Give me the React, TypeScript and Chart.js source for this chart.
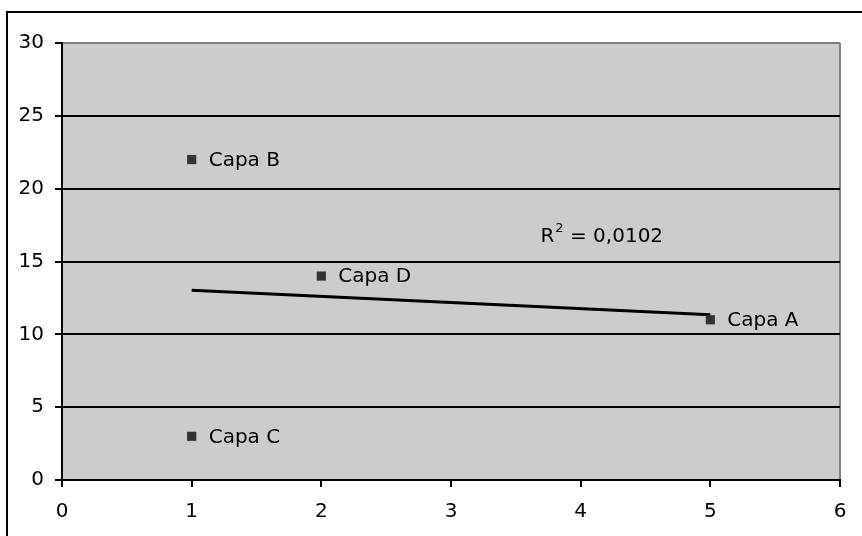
import React, { useEffect, useRef } from "react";
import { Chart, registerables } from "chart.js";

Chart.register(...registerables);

const labels = ["Capa A", "Capa B", "Capa C", "Capa D"];
const xValues = [5, 1, 1, 2];
const yValues = [11, 22, 3, 14];
const xTicks = [0, 1, 2, 3, 4, 5, 6];
const yTicks = [0, 5, 10, 15, 20, 25, 30];
const r2Text = "0,0102";
const r2Pos = { x: 3.69, y: 16.7 };

const FONT = "DejaVu Sans, Verdana, sans-serif";

function regression(xs: number[], ys: number[]) {
  const n = xs.length;
  const mx = xs.reduce((a, b) => a + b, 0) / n;
  const my = ys.reduce((a, b) => a + b, 0) / n;
  let sxy = 0, sxx = 0;
  for (let i = 0; i < n; i++) {
    sxy += (xs[i] - mx) * (ys[i] - my);
    sxx += (xs[i] - mx) ** 2;
  }
  const slope = sxy / sxx;
  return { slope, intercept: my - slope * mx };
}

export default function App() {
  const ref = useRef<HTMLCanvasElement | null>(null);
  useEffect(() => {
    if (!ref.current) return;
    const { slope, intercept } = regression(xValues, yValues);
    const xmin = Math.min(...xValues);
    const xmax = Math.max(...xValues);
    const trend = [
      { x: xmin, y: intercept + slope * xmin },
      { x: xmax, y: intercept + slope * xmax },
    ];
    const points = xValues.map((x, i) => ({ x, y: yValues[i] }));

    const decor = {
      id: "decor",
      beforeDraw(chart: any) {
        const { ctx, chartArea: a } = chart;
        ctx.save();
        ctx.fillStyle = "#ffffff";
        ctx.fillRect(0, 0, chart.width, chart.height);
        ctx.fillStyle = "#cccccc";
        ctx.fillRect(a.left, a.top, a.right - a.left, a.bottom - a.top);
        ctx.restore();
      },
      afterDraw(chart: any) {
        const { ctx } = chart;
        const xs = chart.scales.x;
        const ys = chart.scales.y;
        ctx.save();
        // outer border
        ctx.strokeStyle = "#000";
        ctx.lineWidth = 2;
        ctx.beginPath();
        ctx.moveTo(7, 540);
        ctx.lineTo(7, 12);
        ctx.lineTo(870, 12);
        ctx.stroke();
        // point labels
        ctx.fillStyle = "#000";
        ctx.font = `20px ${FONT}`;
        ctx.textBaseline = "middle";
        ctx.textAlign = "left";
        points.forEach((p, i) => {
          const px = xs.getPixelForValue(p.x);
          const py = ys.getPixelForValue(p.y);
          ctx.fillText(labels[i], px + 17, py + 1);
        });
        // R² label
        const rx = xs.getPixelForValue(r2Pos.x);
        const ry = ys.getPixelForValue(r2Pos.y);
        ctx.font = `20px ${FONT}`;
        ctx.fillText("R", rx, ry);
        const rw = ctx.measureText("R").width;
        ctx.font = `13px ${FONT}`;
        ctx.fillText("2", rx + rw + 1, ry - 8);
        const w2 = ctx.measureText("2").width;
        ctx.font = `20px ${FONT}`;
        ctx.fillText(" = " + r2Text, rx + rw + 1 + w2, ry);
        ctx.restore();
      },
    };

    const chart = new Chart(ref.current, {
      type: "scatter",
      data: {
        datasets: [
          {
            data: points,
            pointStyle: "rect",
            pointRadius: 6.5,
            pointHoverRadius: 6.5,
            pointBackgroundColor: "#333333",
            pointBorderWidth: 0,
            showLine: false,
            order: 1,
          },
          {
            data: trend,
            showLine: true,
            pointRadius: 0,
            borderColor: "#000000",
            borderWidth: 3,
            fill: false,
            order: 2,
          },
        ],
      },
      options: {
        animation: false,
        responsive: false,
        maintainAspectRatio: false,
        events: [],
        layout: { padding: { left: 0, top: 43, right: 22, bottom: 0 } },
        plugins: { legend: { display: false }, tooltip: { enabled: false } },
        scales: {
          x: {
            type: "linear",
            min: 0,
            max: 6,
            afterFit: (s: any) => { s.height = 56; },
            afterBuildTicks: (s: any) => { s.ticks = xTicks.map((v) => ({ value: v })); },
            ticks: { color: "#000", font: { family: FONT, size: 20 }, padding: 13 },
            grid: {
              color: (c: any) => (c.tick && c.tick.value === 6 ? "#808080" : "rgba(0,0,0,0)"),
              lineWidth: 2,
              tickColor: "#000",
              tickLength: 7,
            },
            border: { color: "#000", width: 2 },
          },
          y: {
            type: "linear",
            min: 0,
            max: 30,
            afterFit: (s: any) => { s.width = 62; },
            afterBuildTicks: (s: any) => { s.ticks = yTicks.map((v) => ({ value: v })); },
            ticks: { color: "#000", font: { family: FONT, size: 20 }, padding: 11 },
            grid: {
              color: (c: any) => (c.tick && c.tick.value === 30 ? "#808080" : "#000"),
              lineWidth: 2,
              tickColor: "#000",
              tickLength: 7,
            },
            border: { color: "#000", width: 2 },
          },
        },
      },
      plugins: [decor],
    } as any);
    return () => chart.destroy();
  }, []);
  return (
    <div style={{ position: "absolute", left: 0, top: 0, width: 862, height: 536 }}>
      <canvas ref={ref} width={862} height={536} style={{ width: 862, height: 536, display: "block" }} />
    </div>
  );
}
